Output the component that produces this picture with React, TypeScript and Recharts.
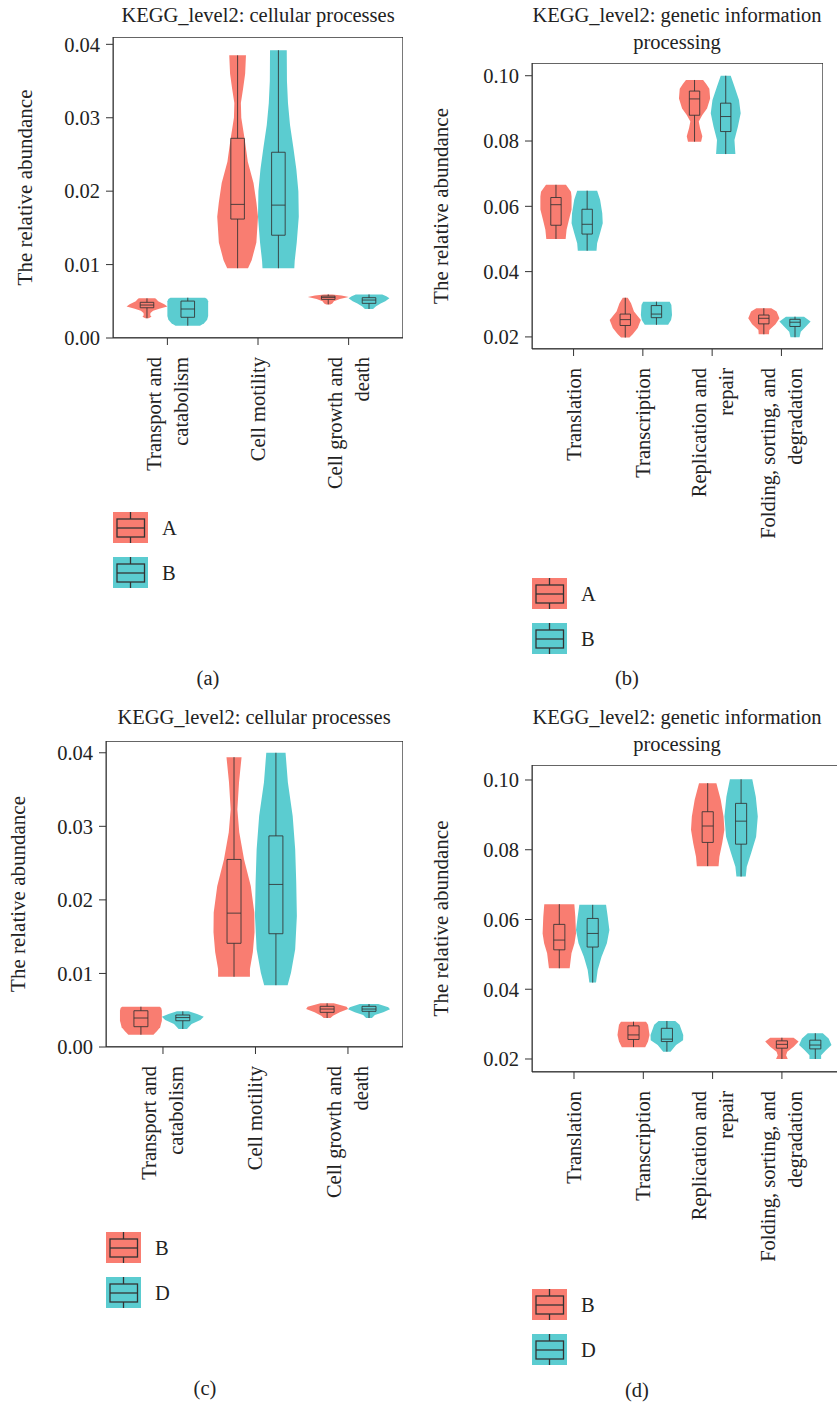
import React from "react";
import { ComposedChart, XAxis, YAxis, Scatter, Legend } from "recharts";

type Profile = [number, number][];
type Box5 = [number, number, number, number, number];

const FONT = '"Liberation Serif", "Times New Roman", Times, serif';
const TEXT = "#222222";
const INK = "#333333";
const RED = "#F97D71";
const CYAN = "#5BCCD0";
const COLORS = [RED, CYAN];
const FS = 20.5;

// ---------- categories / labels ----------
const cellularCategories = ["Transport and\ncatabolism", "Cell motility", "Cell growth and\ndeath"];
const geneticCategories = ["Translation", "Transcription", "Replication and\nrepair", "Folding, sorting, and\ndegradation"];
const groupsAB = ["A", "B"];
const groupsBD = ["B", "D"];
const titleCellular = ["KEGG_level2: cellular processes"];
const titleGenetic = ["KEGG_level2: genetic information", "processing"];
const ticksCellular = [0, 0.01, 0.02, 0.03, 0.04];
const ticksGenetic = [0.02, 0.04, 0.06, 0.08, 0.1];

// ---------- panel (a): density profiles [value, relative width] ----------
const violinA_A: Profile[] = [
  [[0.00268, 0.08], [0.0029, 0.22], [0.0031, 0.16], [0.0034, 0.17], [0.0037, 0.3], [0.004, 0.6], [0.0043, 1.0], [0.0046, 0.85], [0.005, 0.55], [0.0053, 0.45], [0.0054, 0.4]],
  [[0.0095, 0.51], [0.0106, 0.69], [0.013, 0.92], [0.0165, 1.0], [0.0185, 0.92], [0.0211, 0.78], [0.024, 0.5], [0.027, 0.35], [0.03, 0.18], [0.032, 0.16], [0.034, 0.27], [0.036, 0.37], [0.0385, 0.41]],
  [[0.00458, 0.1], [0.0047, 0.2], [0.005, 0.28], [0.0053, 0.57], [0.00558, 1.0], [0.0058, 0.65], [0.00594, 0.2]],
];
const violinA_B: Profile[] = [
  [[0.00168, 0.6], [0.002, 0.8], [0.0025, 0.95], [0.003, 1.0], [0.004, 1.0], [0.005, 1.0], [0.0053, 0.95], [0.00549, 0.85]],
  [[0.0095, 0.78], [0.0105, 0.8], [0.013, 0.9], [0.0165, 1.0], [0.02, 0.98], [0.023, 0.88], [0.026, 0.73], [0.029, 0.57], [0.032, 0.47], [0.035, 0.42], [0.0392, 0.41]],
  [[0.00395, 0.2], [0.0043, 0.33], [0.0047, 0.57], [0.005, 0.8], [0.0054, 1.0], [0.0057, 0.85], [0.00594, 0.65]],
];
// box stats [min, q1, median, q3, max]
const boxA_A: Box5[] = [
  [0.00268, 0.00412, 0.00449, 0.00486, 0.0054],
  [0.0095, 0.0162, 0.0182, 0.0272, 0.0385],
  [0.00458, 0.00526, 0.00553, 0.00571, 0.00594],
];
const boxA_B: Box5[] = [
  [0.00168, 0.00282, 0.00395, 0.00503, 0.00549],
  [0.0095, 0.014, 0.0181, 0.0253, 0.0392],
  [0.00395, 0.00472, 0.00517, 0.00549, 0.00594],
];

// ---------- panel (b) ----------
const violinB_A: Profile[] = [
  [[0.05, 0.62], [0.0528, 0.68], [0.0558, 0.83], [0.059, 1.0], [0.063, 1.0], [0.0645, 0.96], [0.0666, 0.64]],
  [[0.0198, 0.27], [0.0208, 0.48], [0.0227, 0.8], [0.0252, 1.0], [0.0278, 0.56], [0.0303, 0.37], [0.032, 0.16]],
  [[0.0798, 0.42], [0.0815, 0.5], [0.084, 0.35], [0.086, 0.27], [0.088, 0.5], [0.09, 0.8], [0.093, 1.0], [0.096, 0.95], [0.0975, 0.75], [0.0987, 0.55]],
  [[0.0208, 0.33], [0.0221, 0.35], [0.0239, 0.75], [0.0257, 1.0], [0.0278, 0.82], [0.0288, 0.48]],
];
const violinB_B: Profile[] = [
  [[0.0464, 0.6], [0.0487, 0.64], [0.0518, 0.83], [0.0548, 1.0], [0.0579, 0.97], [0.062, 0.83], [0.0648, 0.64]],
  [[0.0237, 0.75], [0.0252, 0.94], [0.0267, 1.0], [0.0298, 0.96], [0.0308, 0.85]],
  [[0.076, 0.62], [0.0773, 0.6], [0.0803, 0.56], [0.0844, 0.78], [0.0885, 0.96], [0.0926, 0.85], [0.0967, 0.56], [0.1, 0.32]],
  [[0.0199, 0.29], [0.0216, 0.37], [0.0232, 0.7], [0.0247, 1.0], [0.0262, 0.58]],
];
const boxB_A: Box5[] = [
  [0.05, 0.0542, 0.0605, 0.0627, 0.0666],
  [0.0198, 0.0235, 0.0253, 0.027, 0.032],
  [0.0798, 0.0879, 0.0929, 0.0953, 0.0987],
  [0.0208, 0.024, 0.0257, 0.0267, 0.0288],
];
const boxB_B: Box5[] = [
  [0.0464, 0.0515, 0.0545, 0.0591, 0.0648],
  [0.0237, 0.0259, 0.027, 0.0296, 0.0308],
  [0.076, 0.0829, 0.0875, 0.0916, 0.1],
  [0.0199, 0.0232, 0.0245, 0.0254, 0.0262],
];

// ---------- panel (c) ----------
const violinC_B: Profile[] = [
  [[0.00167, 0.6], [0.00213, 0.76], [0.00268, 0.92], [0.00357, 1.0], [0.00493, 1.0], [0.0053, 0.97], [0.00548, 0.9]],
  [[0.00955, 0.76], [0.0106, 0.76], [0.0129, 0.9], [0.0156, 0.98], [0.0183, 0.97], [0.0219, 0.8], [0.0255, 0.48], [0.0292, 0.25], [0.0323, 0.16], [0.036, 0.24], [0.0394, 0.36]],
  [[0.00394, 0.16], [0.00425, 0.28], [0.00471, 0.6], [0.00516, 1.0], [0.00548, 0.93], [0.00594, 0.32]],
];
const violinC_D: Profile[] = [
  [[0.00245, 0.2], [0.00313, 0.42], [0.00367, 0.84], [0.00412, 1.0], [0.00448, 0.68], [0.00485, 0.28]],
  [[0.0084, 0.56], [0.0101, 0.72], [0.0133, 0.92], [0.0178, 1.0], [0.0224, 0.97], [0.0269, 0.92], [0.0314, 0.8], [0.036, 0.57], [0.04, 0.46]],
  [[0.00394, 0.14], [0.00435, 0.28], [0.00471, 0.68], [0.00512, 1.0], [0.0054, 0.92], [0.00584, 0.44]],
];
const boxC_B: Box5[] = [
  [0.00167, 0.00276, 0.00394, 0.00493, 0.00548],
  [0.00955, 0.0141, 0.0182, 0.0255, 0.0394],
  [0.00394, 0.00471, 0.00516, 0.00553, 0.00594],
];
const boxC_D: Box5[] = [
  [0.00245, 0.00357, 0.004, 0.00435, 0.00485],
  [0.0084, 0.0154, 0.0221, 0.0287, 0.04],
  [0.00394, 0.00485, 0.00516, 0.00553, 0.00584],
];

// ---------- panel (d) ----------
const violinD_B: Profile[] = [
  [[0.046, 0.62], [0.0503, 0.73], [0.0532, 0.91], [0.056, 1.0], [0.0608, 0.96], [0.0644, 0.9]],
  [[0.0234, 0.7], [0.025, 0.87], [0.0269, 0.96], [0.0298, 0.87], [0.0307, 0.75]],
  [[0.0753, 0.65], [0.078, 0.7], [0.0819, 0.87], [0.0857, 1.0], [0.0895, 0.95], [0.0943, 0.78], [0.0991, 0.52]],
  [[0.02, 0.35], [0.0211, 0.25], [0.0221, 0.32], [0.0235, 0.7], [0.025, 1.0], [0.0261, 0.7]],
];
const violinD_D: Profile[] = [
  [[0.0419, 0.2], [0.0455, 0.3], [0.0493, 0.53], [0.0532, 0.85], [0.057, 1.0], [0.0608, 0.9], [0.0642, 0.8]],
  [[0.0221, 0.22], [0.024, 0.55], [0.0254, 0.97], [0.0269, 0.98], [0.0298, 0.76], [0.0309, 0.5]],
  [[0.0723, 0.28], [0.0751, 0.34], [0.079, 0.6], [0.0837, 0.9], [0.0895, 1.0], [0.0952, 0.88], [0.1002, 0.67]],
  [[0.02, 0.35], [0.0211, 0.35], [0.0226, 0.65], [0.024, 0.97], [0.0259, 0.8], [0.0274, 0.45]],
];
const boxD_B: Box5[] = [
  [0.046, 0.0513, 0.0541, 0.0586, 0.0644],
  [0.0234, 0.0256, 0.0269, 0.0295, 0.0307],
  [0.0753, 0.0821, 0.0868, 0.0909, 0.0991],
  [0.02, 0.0231, 0.0242, 0.0252, 0.0261],
];
const boxD_D: Box5[] = [
  [0.0419, 0.0521, 0.056, 0.0603, 0.0642],
  [0.0221, 0.025, 0.0257, 0.0288, 0.0309],
  [0.0723, 0.0816, 0.0882, 0.0933, 0.1002],
  [0.02, 0.0229, 0.024, 0.0254, 0.0274],
];

// ---------- geometry constants (category units) ----------
const DODGE = 0.225;
const HALF_WIDTH = 0.225;
const BOX_HALF = 0.075;

function violinPoints(profile: Profile, cx: number) {
  const right = profile.map(([v, w]) => ({ x: cx + w * HALF_WIDTH, y: v }));
  const left = profile.slice().reverse().map(([v, w]) => ({ x: cx - w * HALF_WIDTH, y: v }));
  return right.concat(left);
}

function boxParts(b: Box5, cx: number) {
  const [mn, q1, md, q3, mx] = b;
  const x1 = cx - BOX_HALF;
  const x2 = cx + BOX_HALF;
  return [
    [{ x: cx, y: mn }, { x: cx, y: q1 }],
    [{ x: cx, y: q3 }, { x: cx, y: mx }],
    [{ x: x1, y: q1 }, { x: x2, y: q1 }, { x: x2, y: q3 }, { x: x1, y: q3 }, { x: x1, y: q1 }],
    [{ x: x1, y: md }, { x: x2, y: md }],
  ];
}

const NoDot = () => null;

function CatTick(props: any) {
  const { x, y, payload, labels } = props;
  const idx = Math.round(Number(payload?.value));
  const text = labels[idx] ?? "";
  const lines = String(text).split("\n");
  const n = lines.length;
  return (
    <g transform={`translate(${x},${y})`}>
      <text transform="rotate(-90)" textAnchor="end" fontSize={FS} fill={TEXT} fontFamily={FONT}>
        {lines.map((l, i) => (
          <tspan key={i} x={0} y={(i - (n - 1) / 2) * 27 + 7}>
            {l}
          </tspan>
        ))}
      </text>
    </g>
  );
}

function LegendKeys({ groups }: { groups: string[] }) {
  return (
    <svg width={110} height={80} style={{ display: "block", overflow: "visible" }}>
      {groups.map((g, i) => {
        const y0 = i * 45;
        return (
          <g key={g}>
            <rect x={0} y={y0} width={35} height={31} fill={COLORS[i]} />
            <line x1={17.5} x2={17.5} y1={y0} y2={y0 + 7} stroke={INK} strokeWidth={1.3} />
            <line x1={17.5} x2={17.5} y1={y0 + 25} y2={y0 + 31} stroke={INK} strokeWidth={1.3} />
            <rect x={4} y={y0 + 7} width={27.5} height={18} fill="none" stroke={INK} strokeWidth={1.3} />
            <line x1={4} x2={31.5} y1={y0 + 16} y2={y0 + 16} stroke={INK} strokeWidth={1.3} />
            <text x={49} y={y0 + 22.5} fontSize={FS} fill={TEXT} fontFamily={FONT}>
              {g}
            </text>
          </g>
        );
      })}
    </svg>
  );
}

type PanelProps = {
  left: number;
  top: number;
  width: number;
  height: number;
  margin: { top: number; right: number; bottom: number; left: number };
  yAxisWidth: number;
  yLabelX: number;
  categories: string[];
  groups: string[];
  violins: Profile[][];
  boxes: Box5[][];
  yDomain: [number, number];
  yTicks: number[];
  tickDomain: [number, number];
  dataDomain: [number, number];
  legendLeft: number;
  legendTop: number;
};

function Panel(p: PanelProps) {
  const catTicks = p.categories.map((_, i) => i);
  const [t0, t1] = p.tickDomain;
  const [y0, y1] = p.yDomain;
  const frame = [
    { x: t0, y: y0 },
    { x: t1, y: y0 },
    { x: t1, y: y1 },
    { x: t0, y: y1 },
    { x: t0, y: y0 },
  ];
  const series: React.ReactNode[] = [];
  p.groups.forEach((g, gi) => {
    const off = gi === 0 ? -DODGE : DODGE;
    p.violins[gi].forEach((prof, ci) => {
      series.push(
        <Scatter
          key={`v-${gi}-${ci}`}
          data={violinPoints(prof, ci + off)}
          xAxisId="d"
          yAxisId="y"
          isAnimationActive={false}
          shape={NoDot}
          line={{ fill: COLORS[gi], stroke: "none" }}
          lineType="joint"
          lineJointType="linear"
          legendType="none"
        />
      );
    });
  });
  p.groups.forEach((g, gi) => {
    const off = gi === 0 ? -DODGE : DODGE;
    p.boxes[gi].forEach((b, ci) => {
      boxParts(b, ci + off).forEach((pts, k) => {
        series.push(
          <Scatter
            key={`b-${gi}-${ci}-${k}`}
            data={pts}
            xAxisId="d"
            yAxisId="y"
            isAnimationActive={false}
            shape={NoDot}
            line={{ fill: "none", stroke: INK, strokeWidth: 1, strokeOpacity: 0.85 }}
            lineType="joint"
            lineJointType="linear"
            legendType="none"
          />
        );
      });
    });
  });

  return (
    <div style={{ position: "absolute", left: p.left, top: p.top, width: p.width, height: p.height }}>
      <ComposedChart width={p.width} height={p.height} margin={p.margin} style={{ fontFamily: FONT }}>
        <XAxis
          xAxisId="t"
          type="number"
          dataKey="x"
          domain={p.tickDomain}
          allowDataOverflow
          ticks={catTicks}
          interval={0}
          height={130}
          tickSize={7}
          tickMargin={12}
          stroke={INK}
          tick={(tp: any) => <CatTick {...tp} labels={p.categories} />}
        />
        <XAxis
          xAxisId="d"
          orientation="top"
          type="number"
          dataKey="x"
          domain={p.dataDomain}
          allowDataOverflow
          hide
          height={0}
        />
        <YAxis
          yAxisId="y"
          type="number"
          dataKey="y"
          domain={p.yDomain}
          allowDataOverflow
          ticks={p.yTicks}
          interval={0}
          width={p.yAxisWidth}
          tickSize={7}
          tickMargin={6}
          stroke={INK}
          tickFormatter={(v: number) => v.toFixed(2)}
          tick={{ fill: TEXT, fontSize: FS, fontFamily: FONT }}
          label={{
            value: "The relative abundance",
            angle: -90,
            position: "insideLeft",
            offset: p.yLabelX,
            style: { textAnchor: "middle", fontSize: 21, fill: TEXT, fontFamily: FONT },
          }}
        />
        {series}
        <Scatter
          data={frame}
          xAxisId="t"
          yAxisId="y"
          isAnimationActive={false}
          shape={NoDot}
          line={{ fill: "none", stroke: INK, strokeWidth: 1.3 }}
          lineType="joint"
          lineJointType="linear"
          legendType="none"
        />
        <Legend
          layout="vertical"
          align="center"
          verticalAlign="middle"
          wrapperStyle={{ left: p.legendLeft, top: p.legendTop, width: 110, height: 80 }}
          content={() => <LegendKeys groups={p.groups} />}
        />
      </ComposedChart>
    </div>
  );
}

function TextBlock({ lines, cx, top }: { lines: string[]; cx: number; top: number }) {
  return (
    <div
      style={{
        position: "absolute",
        left: cx - 250,
        width: 500,
        top,
        textAlign: "center",
        fontFamily: FONT,
        fontSize: FS,
        lineHeight: "27px",
        color: TEXT,
        whiteSpace: "nowrap",
      }}
    >
      {lines.map((l, i) => (
        <div key={i}>{l}</div>
      ))}
    </div>
  );
}

export default function App() {
  return (
    <div
      style={{
        position: "absolute",
        left: 0,
        top: 0,
        width: 837,
        height: 1403,
        overflow: "hidden",
        background: "#ffffff",
      }}
    >
      <Panel
        left={0}
        top={0}
        width={420}
        height={700}
        margin={{ top: 37, right: 17, left: 0, bottom: 232 }}
        yAxisWidth={113}
        yLabelX={25}
        categories={cellularCategories}
        groups={groupsAB}
        violins={[violinA_A, violinA_B]}
        boxes={[boxA_A, boxA_B]}
        yDomain={[0, 0.041]}
        yTicks={ticksCellular}
        tickDomain={[-0.6, 2.6]}
        dataDomain={[-0.6, 2.6]}
        legendLeft={113}
        legendTop={512}
      />
      <Panel
        left={420}
        top={0}
        width={417}
        height={700}
        margin={{ top: 63, right: 14, left: 0, bottom: 221 }}
        yAxisWidth={112}
        yLabelX={21}
        categories={geneticCategories}
        groups={groupsAB}
        violins={[violinB_A, violinB_B]}
        boxes={[boxB_A, boxB_B]}
        yDomain={[0.0163, 0.1039]}
        yTicks={ticksGenetic}
        tickDomain={[-0.6, 3.6]}
        dataDomain={[-0.571, 3.629]}
        legendLeft={112}
        legendTop={578}
      />
      <Panel
        left={0}
        top={700}
        width={420}
        height={703}
        margin={{ top: 41, right: 17, left: 0, bottom: 226 }}
        yAxisWidth={106}
        yLabelX={18}
        categories={cellularCategories}
        groups={groupsBD}
        violins={[violinC_B, violinC_D]}
        boxes={[boxC_B, boxC_D]}
        yDomain={[0, 0.0416]}
        yTicks={ticksCellular}
        tickDomain={[-0.616, 2.595]}
        dataDomain={[-0.6, 2.59]}
        legendLeft={106}
        legendTop={532}
      />
      <Panel
        left={420}
        top={700}
        width={430}
        height={703}
        margin={{ top: 65, right: 8, left: 0, bottom: 201 }}
        yAxisWidth={112}
        yLabelX={21}
        categories={geneticCategories}
        groups={groupsBD}
        violins={[violinD_B, violinD_D]}
        boxes={[boxD_B, boxD_D]}
        yDomain={[0.01627, 0.1043]}
        yTicks={ticksGenetic}
        tickDomain={[-0.606, 3.867]}
        dataDomain={[-0.593, 3.585]}
        legendLeft={112}
        legendTop={589}
      />
      <TextBlock lines={titleCellular} cx={258} top={2} />
      <TextBlock lines={titleGenetic} cx={677} top={2} />
      <TextBlock lines={titleCellular} cx={254} top={704} />
      <TextBlock lines={titleGenetic} cx={677} top={704} />
      <TextBlock lines={["(a)"]} cx={208} top={665} />
      <TextBlock lines={["(b)"]} cx={627} top={665} />
      <TextBlock lines={["(c)"]} cx={205} top={1375} />
      <TextBlock lines={["(d)"]} cx={637} top={1377} />
    </div>
  );
}
